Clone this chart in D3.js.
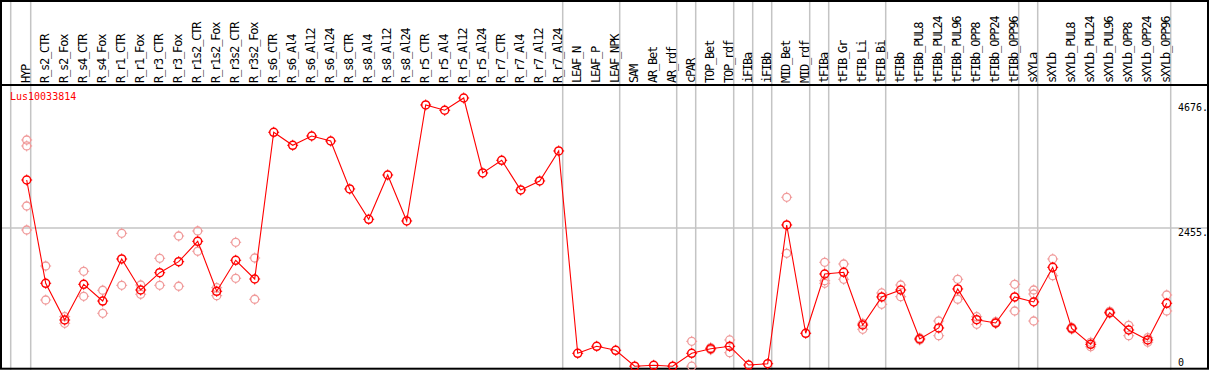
<!DOCTYPE html>
<html>
<head>
<meta charset="utf-8">
<title>Lus10033814</title>
<script src="https://d3js.org/d3.v7.min.js"></script>
<style>
  body { margin: 0; background: #fff; }
  svg { display: block; }
  text { font-family: "DejaVu Sans Mono", monospace; }
</style>
</head>
<body>
<svg id="chart" width="1209" height="370"></svg>
<script>

// sample names, left to right
const samples = ["HYP", "R_s2_CTR", "R_s2_Fox", "R_s4_CTR", "R_s4_Fox", "R_r1_CTR", "R_r1_Fox",
  "R_r3_CTR", "R_r3_Fox", "R_r1s2_CTR", "R_r1s2_Fox", "R_r3s2_CTR", "R_r3s2_Fox",
  "R_s6_CTR", "R_s6_Al4", "R_s6_Al12", "R_s6_Al24", "R_s8_CTR", "R_s8_Al4", "R_s8_Al12", "R_s8_Al24",
  "R_r5_CTR", "R_r5_Al4", "R_r5_Al12", "R_r5_Al24", "R_r7_CTR", "R_r7_Al4", "R_r7_Al12", "R_r7_Al24",
  "LEAF_N", "LEAF_P", "LEAF_NPK", "SAM", "AR_Bet", "AR_rdf", "cPAR", "TOP_Bet", "TOP_rdf",
  "iFIBa", "iFIBb", "MID_Bet", "MID_rdf", "tFIBa", "tFIB_Gr", "tFIB_Li", "tFIB_Bi",
  "tFIBb", "tFIBb_PUL8", "tFIBb_PUL24", "tFIBb_PUL96", "tFIBb_OPP8", "tFIBb_OPP24", "tFIBb_OPP96",
  "sXYLa", "sXYLb", "sXYLb_PUL8", "sXYLb_PUL24", "sXYLb_PUL96", "sXYLb_OPP8", "sXYLb_OPP24", "sXYLb_OPP96"];

// mean expression per sample
const means = [3308, 1473, 821, 1455, 1158, 1905, 1354, 1661, 1857, 2219, 1331, 1882, 1549,
  4156, 3925, 4090, 4001, 3149, 2610, 3397, 2580, 4641, 4547, 4765, 3433, 3658, 3131, 3291, 3824,
  229, 354, 283, 0, 16, 0, 229, 311, 354, 21, 44, 2509, 585, 1638, 1668, 732, 1230,
  1354, 483, 679, 1372, 826, 768, 1230, 1141, 1757, 673, 389, 951, 643, 466, 1118];

// individual replicates per sample (same order)
const replicates = [
  [4019, 3913, 2846, 2420], [1780, 1176], [880, 762], [1686, 1242], [1349, 940], [2361, 1437],
  [1443, 1278], [1917, 1437], [2313, 1420], [2402, 2042], [1395, 1253], [2201, 1562], [1922, 1189],
  [], [], [], [], [], [], [], [], [], [], [], [], [], [], [], [],
  [], [], [], [], [], [], [442, 0], [330, 292], [466, 240], [], [], [3001, 2006], [],
  [1846, 1519, 1473], [1816, 1544], [762, 656], [1301, 1100],
  [1443, 1235], [501, 466], [803, 542], [1544, 1189], [880, 744], [791, 762], [1455, 981],
  [1354, 1283, 803], [1905, 1608], [691, 656], [425, 346], [975, 940], [727, 542], [506, 425], [1265, 981]];

// a grey separator follows each of these samples
const groupEnds = ["HYP", "R_r7_Al24", "LEAF_NPK", "AR_rdf", "cPAR", "TOP_rdf", "iFIBa", "iFIBb",
  "MID_rdf", "tFIBa", "tFIB_Bi", "tFIBb_OPP96", "sXYLa", "sXYLb_OPP96"];

const yTicks = [4676, 2455, 0];
const geneName = "Lus10033814";

const svg = d3.select("#chart"),
  width = +svg.attr("width"),
  height = +svg.attr("height");

const headerBottom = 85;
const grey = "#c4c4c4";

const x = d3.scalePoint()
  .domain(samples)
  .range([26.7, 1166.7]);

const y = d3.scaleLinear()
  .domain([0, 4676])
  .range([366.2, 103]);

// vertical separators, full height
const sepX = [x(samples[0]) - 16].concat(groupEnds.map(d => x(d) + 4));
svg.append("g")
  .selectAll("line")
  .data(sepX)
  .join("line")
    .attr("x1", d => d).attr("x2", d => d)
    .attr("y1", 0).attr("y2", height)
    .attr("stroke", grey)
    .attr("stroke-width", 1.5);

// horizontal grid line for the middle tick only
svg.append("g")
  .selectAll("line")
  .data(yTicks.filter(d => d > 0 && d < y.domain()[1]))
  .join("line")
    .attr("x1", 0).attr("x2", width)
    .attr("y1", d => y(d)).attr("y2", d => y(d))
    .attr("stroke", grey)
    .attr("stroke-width", 1.5);

// frame + header divider
svg.append("rect")
  .attr("x", 1).attr("y", 1)
  .attr("width", width - 2).attr("height", 367.7)
  .attr("fill", "none")
  .attr("stroke", "#000")
  .attr("stroke-width", 2);

svg.append("line")
  .attr("x1", 0).attr("x2", width)
  .attr("y1", headerBottom).attr("y2", headerBottom)
  .attr("stroke", "#000")
  .attr("stroke-width", 2);

// rotated sample labels
svg.append("g")
  .selectAll("text")
  .data(samples)
  .join("text")
    .attr("transform", d => `translate(${x(d) + 3.3},${headerBottom - 2}) rotate(-90)`)
    .attr("font-size", 12)
    .attr("letter-spacing", "-1.2px")
    .attr("fill", "#000")
    .text(d => d);

// y tick labels at the right
svg.append("g")
  .selectAll("text")
  .data(yTicks)
  .join("text")
    .attr("x", 1178)
    .attr("y", d => Math.min(y(d) + 8, 366))
    .attr("font-size", 10)
    .attr("fill", "#000")
    .text(d => d === 0 ? "0" : d + ".");

// gene name
svg.append("text")
  .attr("x", 10)
  .attr("y", 100)
  .attr("font-size", 10)
  .attr("fill", "#ff0000")
  .text(geneName);

// marker: circle with small ticks at the four compass points
function marker(g, cx, cy, color, w) {
  g.append("circle")
    .attr("cx", cx).attr("cy", cy).attr("r", 4)
    .attr("fill", "none").attr("stroke", color).attr("stroke-width", w);
  g.append("path")
    .attr("d", `M${cx},${cy - 4}V${cy - 5.5}M${cx},${cy + 4}V${cy + 5.5}M${cx - 4},${cy}H${cx - 5.5}M${cx + 4},${cy}H${cx + 5.5}`)
    .attr("stroke", color).attr("stroke-width", 1);
}

// replicate points (pale)
const repG = svg.append("g");
samples.forEach((s, i) => {
  replicates[i].forEach(v => marker(repG, x(s), y(v), "#f09a9a", 1.3));
});

// mean line
svg.append("path")
  .datum(means)
  .attr("fill", "none")
  .attr("stroke", "#ff0000")
  .attr("stroke-width", 1.1)
  .attr("d", d3.line()
    .x((d, i) => x(samples[i]))
    .y(d => y(d)));

// mean markers
const meanG = svg.append("g");
samples.forEach((s, i) => marker(meanG, x(s), y(means[i]), "#ff0000", 1.5));

</script>
</body>
</html>
